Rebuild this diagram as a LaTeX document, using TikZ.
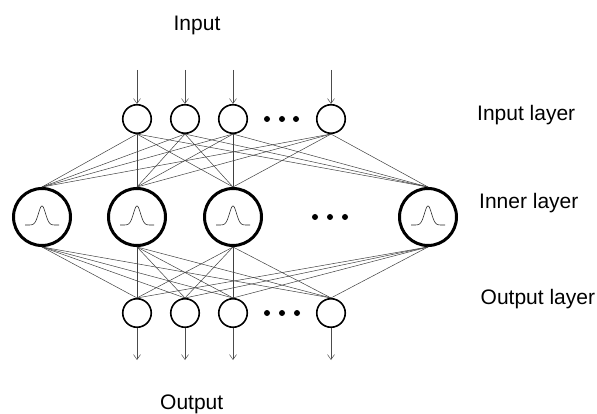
\documentclass[tikz,border=0pt]{standalone}
\usepackage{fontspec}
\setmainfont{Liberation Sans}
\usetikzlibrary{arrows.meta}
\begin{document}
\begin{tikzpicture}[x=1pt,y=-1pt,
  small/.style={circle,draw,line width=1.6pt,minimum size=28.5pt,inner sep=0pt},
  big/.style={circle,draw,line width=3pt,minimum size=57pt,inner sep=0pt},
  conn/.style={line width=0.5pt,black!75},
  arr/.style={line width=0.5pt,black!70,-{Straight Barb[length=5pt,width=7pt]}},
  dotn/.style={circle,fill,inner sep=0pt,minimum size=6pt},
  lbl/.style={font=\fontsize{21}{25}\selectfont,inner sep=0pt},
  bell/.style={line width=0.6pt,black!85}]
\useasboundingbox (0,0) rectangle (597,414);
% input layer
\node[small] (i1) at (137,119) {};
\node[small] (i2) at (185,119) {};
\node[small] (i3) at (233,119) {};
\node[small] (i4) at (331,119) {};
\node[dotn] (id1) at (267,119) {};
\node[dotn] (id2) at (282,119) {};
\node[dotn] (id3) at (296,119) {};
% inner layer
\node[big] (h1) at (42,217) {};
\node[big] (h2) at (137,217) {};
\node[big] (h3) at (233,217) {};
\node[big] (h4) at (428,217) {};
\node[dotn] (hd1) at (315,217) {};
\node[dotn] (hd2) at (330,217) {};
\node[dotn] (hd3) at (345,217) {};
% output layer
\node[small] (o1) at (137,313) {};
\node[small] (o2) at (185,313) {};
\node[small] (o3) at (233,313) {};
\node[small] (o4) at (331,313) {};
\node[dotn] (od1) at (267,313) {};
\node[dotn] (od2) at (282,313) {};
\node[dotn] (od3) at (297,313) {};
% connections
\foreach \a in {1,...,4}{
  \foreach \b in {1,...,4}{
    \draw[conn] (i\a.south) -- (h\b.north);
    \draw[conn] (h\a.south) -- (o\b.north);
  }
}
% gaussians
\foreach \n in {1,...,4}{
  \begin{scope}[shift={(h\n)}]
    \draw[bell] plot[domain=-17:17,samples=70,smooth] (\x,{8-19*exp(0-(\x*\x/25))});
  \end{scope}
}
% arrows
\coordinate (ia1) at (137,70);
\coordinate (ia2) at (185,70);
\coordinate (ia3) at (233,70);
\coordinate (ia4) at (331,70);
\coordinate (oa1) at (137,360);
\coordinate (oa2) at (185,360);
\coordinate (oa3) at (233,360);
\coordinate (oa4) at (331,360);
\foreach \n in {1,...,4}{
  \draw[arr] (ia\n) -- (i\n.north);
  \draw[arr] (o\n.south) -- (oa\n);
}
% labels
\node[lbl,anchor=base] (tin) at (197,30.7) {Input};
\node[lbl,anchor=base] (tout) at (191.7,409) {Output};
\node[lbl,anchor=base west] (til) at (477,120.7) {Input layer};
\node[lbl,anchor=base west] (thl) at (479,208.3) {Inner layer};
\node[lbl,anchor=base west] (tol) at (480.5,304.3) {Output layer};
\end{tikzpicture}
\end{document}
